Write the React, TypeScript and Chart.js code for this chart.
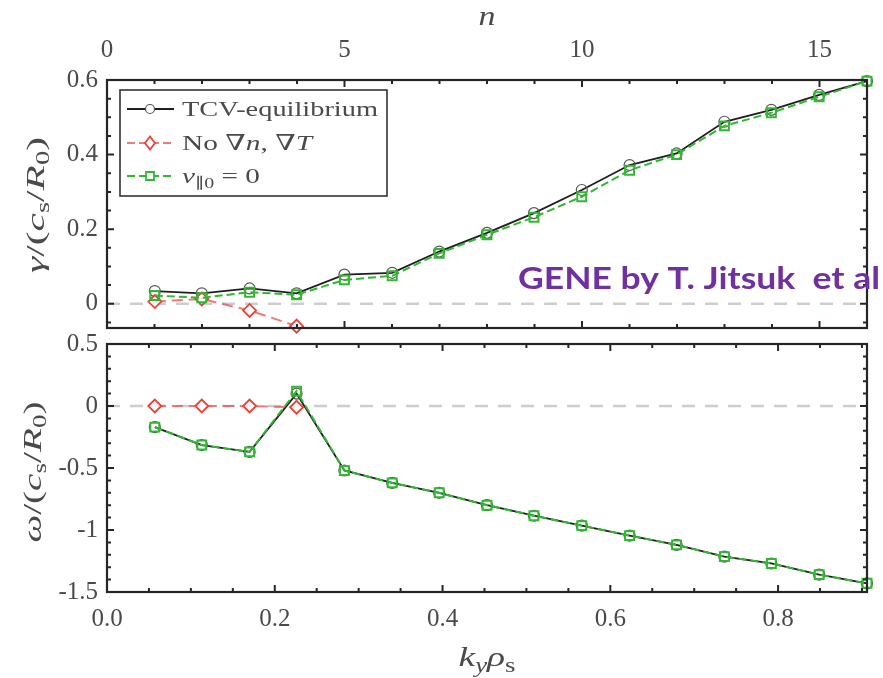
import React, { useEffect, useRef } from "react";
import { Chart, registerables } from "chart.js";
Chart.register(...registerables);

// ---------- data ----------
const nValues = [1, 2, 3, 4, 5, 6, 7, 8, 9, 10, 11, 12, 13, 14, 15, 16];
const kyValues = [0.057, 0.113, 0.17, 0.226, 0.283, 0.34, 0.396, 0.453, 0.509, 0.566, 0.623, 0.679, 0.736, 0.792, 0.849, 0.906];
const gammaTCV = [0.034, 0.028, 0.041, 0.028, 0.078, 0.083, 0.14, 0.19, 0.243, 0.305, 0.372, 0.403, 0.488, 0.52, 0.56, 0.597];
const gammaNoGrad = [0.006, 0.013, -0.018, -0.06];
const gammaV0 = [0.022, 0.016, 0.031, 0.024, 0.064, 0.075, 0.135, 0.185, 0.232, 0.287, 0.358, 0.4, 0.477, 0.512, 0.555, 0.597];
const omegaTCV = [-0.17, -0.315, -0.37, 0.1, -0.52, -0.62, -0.7, -0.8, -0.885, -0.965, -1.045, -1.12, -1.215, -1.27, -1.36, -1.43];
const omegaNoGrad = [0, 0, 0, -0.01];
const omegaV0 = [-0.17, -0.315, -0.37, 0.12, -0.52, -0.62, -0.7, -0.8, -0.885, -0.965, -1.045, -1.12, -1.215, -1.27, -1.36, -1.43];

const nTicks = [0, 5, 10, 15];
const kyTicks = [0, 0.2, 0.4, 0.6, 0.8];
const gammaTicks = [0, 0.2, 0.4, 0.6];
const omegaTicks = [0.5, 0, -0.5, -1, -1.5];

const legendLabels = ["TCV-equilibrium", "No ∇n, ∇T", "v∥0 = 0"];
const annotationText = "GENE by T. Jitsuk  et al";

// ---------- style ----------
const SERIF = '"Liberation Serif", "DejaVu Serif", serif';
const TXT = "#4a4a4a";
const BLACK = "#1e1e1e";
const RED = "#e5433b";
const RED_LINE = "rgba(229,80,75,0.75)";
const GREEN = "#33b633";
const KY_MAX = 0.906;

const TOP_H = 340;
const BOT_TOP = 318;
const BOT_H = 678 - BOT_TOP;

type Seg = { t: string; it?: boolean; sub?: boolean };

function segFont(s: Seg, size: number) {
  return `${s.it ? "italic " : ""}${s.sub ? Math.round(size * 0.7) : size}px ${SERIF}`;
}

function drawRich(
  ctx: CanvasRenderingContext2D,
  segs: Seg[],
  x: number,
  y: number,
  size: number,
  opts: { align: "left" | "center"; width?: number; rotate?: boolean; color?: string }
) {
  ctx.save();
  let natural = 0;
  const ws = segs.map((s) => {
    ctx.font = segFont(s, size);
    const w = ctx.measureText(s.t).width;
    natural += w;
    return w;
  });
  const sx = opts.width ? opts.width / natural : 1;
  ctx.translate(x, y);
  if (opts.rotate) ctx.rotate(-Math.PI / 2);
  ctx.scale(sx, 1);
  let cx = opts.align === "center" ? -natural / 2 : 0;
  ctx.fillStyle = opts.color || TXT;
  ctx.textBaseline = "alphabetic";
  ctx.textAlign = "left";
  const base = size * 0.33;
  segs.forEach((s, i) => {
    ctx.font = segFont(s, size);
    ctx.fillText(s.t, cx, base + (s.sub ? size * 0.22 : 0));
    cx += ws[i];
  });
  ctx.restore();
}

function pts(xs: number[], ys: number[]) {
  return ys.map((y, i) => ({ x: xs[i], y }));
}

function makeDatasets(black: number[], red: number[], green: number[]) {
  return [
    {
      label: legendLabels[0],
      data: pts(kyValues, black),
      borderColor: BLACK,
      borderWidth: 1.8,
      pointStyle: "circle",
      pointRadius: 5.5,
      pointBorderWidth: 1.2,
      pointBorderColor: "#555",
      pointBackgroundColor: "rgba(0,0,0,0)",
      order: 2,
      clip: false as any,
    },
    {
      label: legendLabels[1],
      data: pts(kyValues, red),
      borderColor: RED_LINE,
      borderWidth: 2,
      borderDash: [11, 6],
      pointStyle: "rectRot",
      pointRadius: 6.5,
      pointBorderWidth: 1.8,
      pointBorderColor: RED,
      pointBackgroundColor: "rgba(255,255,255,0.85)",
      order: 1,
      clip: false as any,
    },
    {
      label: legendLabels[2],
      data: pts(kyValues, green),
      borderColor: GREEN,
      borderWidth: 2,
      borderDash: [8, 4],
      pointStyle: "rect",
      pointRadius: 6.3,
      pointBorderWidth: 2,
      pointBorderColor: GREEN,
      pointBackgroundColor: "rgba(0,0,0,0)",
      order: 0,
      clip: false as any,
    },
  ];
}

function zeroLine(chart: any) {
  const { ctx, chartArea: a } = chart;
  const y = chart.scales.y.getPixelForValue(0);
  ctx.save();
  ctx.strokeStyle = "#cdcdcd";
  ctx.lineWidth = 2.5;
  ctx.setLineDash([13, 10]);
  ctx.beginPath();
  ctx.moveTo(a.left, y);
  ctx.lineTo(a.right, y);
  ctx.stroke();
  ctx.restore();
}

function frame(chart: any, xTickVals: number[], xMajor: (v: number) => boolean, xScaleId: string, yTickVals: number[], yMajor: (v: number) => boolean) {
  const { ctx, chartArea: a } = chart;
  ctx.save();
  ctx.strokeStyle = "#262626";
  ctx.lineWidth = 2;
  ctx.setLineDash([]);
  ctx.beginPath();
  const xs = chart.scales[xScaleId];
  xTickVals.forEach((v) => {
    const px = xs.getPixelForValue(v);
    const L = xMajor(v) ? 7 : 4;
    ctx.moveTo(px, a.top);
    ctx.lineTo(px, a.top + L);
    ctx.moveTo(px, a.bottom);
    ctx.lineTo(px, a.bottom - L);
  });
  const ys = chart.scales.y;
  yTickVals.forEach((v) => {
    const py = ys.getPixelForValue(v);
    const L = yMajor(v) ? 7 : 4;
    ctx.moveTo(a.left, py);
    ctx.lineTo(a.left + L, py);
    ctx.moveTo(a.right, py);
    ctx.lineTo(a.right - L, py);
  });
  ctx.stroke();
  ctx.lineWidth = 2.2;
  ctx.strokeRect(a.left, a.top, a.right - a.left, a.bottom - a.top);
  ctx.restore();
}

function drawMarker(ctx: CanvasRenderingContext2D, kind: string, x: number, y: number, color: string) {
  ctx.save();
  ctx.setLineDash([]);
  ctx.strokeStyle = color;
  ctx.fillStyle = "#fff";
  ctx.lineWidth = kind === "circle" ? 1.2 : 1.8;
  ctx.beginPath();
  if (kind === "circle") ctx.arc(x, y, 4.5, 0, Math.PI * 2);
  else if (kind === "diamond") {
    ctx.moveTo(x, y - 6.5);
    ctx.lineTo(x + 5, y);
    ctx.lineTo(x, y + 6.5);
    ctx.lineTo(x - 5, y);
    ctx.closePath();
  } else ctx.rect(x - 4, y - 4, 8, 8);
  ctx.fill();
  ctx.stroke();
  ctx.restore();
}

const topPlugin = {
  id: "topDeco",
  beforeDatasetsDraw(chart: any) {
    zeroLine(chart);
  },
  afterDatasetsDraw(chart: any) {
    const nAll = Array.from({ length: 17 }, (_, i) => i);
    const yAll = Array.from({ length: 14 }, (_, i) => Math.round((i - 1) * 5) / 100);
    frame(chart, nAll, (v) => v % 5 === 0, "xn", yAll, (v) => Math.abs(Math.round(v * 100) % 20) === 0);
  },
  afterDraw(chart: any) {
    const ctx: CanvasRenderingContext2D = chart.ctx;
    // legend
    ctx.save();
    ctx.fillStyle = "#fff";
    ctx.fillRect(120, 90, 267, 106);
    ctx.strokeStyle = "#333";
    ctx.lineWidth = 1.6;
    ctx.strokeRect(120, 90, 267, 106);
    const rows = [
      { y: 109, color: BLACK, dash: [] as number[], kind: "circle", segs: [{ t: "TCV-equilibrium" }] as Seg[], w: 196 },
      { y: 143, color: RED_LINE, dash: [8, 4], kind: "diamond", segs: [{ t: "No ∇" }, { t: "n", it: true }, { t: ", ∇" }, { t: "T", it: true }] as Seg[], w: 130 },
      { y: 176, color: GREEN, dash: [8, 4], kind: "square", segs: [{ t: "v", it: true }, { t: "∥0", sub: true }, { t: " = 0" }] as Seg[], w: 78 },
    ];
    rows.forEach((r) => {
      ctx.save();
      ctx.strokeStyle = r.color;
      ctx.lineWidth = 1.8;
      ctx.setLineDash(r.dash);
      ctx.beginPath();
      ctx.moveTo(127, r.y);
      ctx.lineTo(174, r.y);
      ctx.stroke();
      ctx.restore();
      drawMarker(ctx, r.kind, 150, r.y, r.kind === "circle" ? "#555" : r.kind === "diamond" ? RED : GREEN);
      drawRich(ctx, r.segs, 182, r.y, 22, { align: "left", width: r.w });
    });
    ctx.restore();
    // axis titles
    drawRich(ctx, [{ t: "n", it: true }], 487, 16, 27, { align: "center", width: 17 });
    drawRich(
      ctx,
      [{ t: "γ", it: true }, { t: "/(" }, { t: "c", it: true }, { t: "s", sub: true }, { t: "/" }, { t: "R", it: true }, { t: "0", sub: true }, { t: ")" }],
      35,
      205,
      26,
      { align: "center", width: 136, rotate: true }
    );
    // annotation
    ctx.save();
    ctx.font = 'bold 30px Lato, "Open Sans", sans-serif';
    const w = ctx.measureText(annotationText).width;
    ctx.translate(518, 289);
    ctx.scale(362 / w, 1);
    ctx.fillStyle = "#7030A0";
    ctx.textBaseline = "alphabetic";
    ctx.fillText(annotationText, 0, 0);
    ctx.restore();
  },
};

const bottomPlugin = {
  id: "botDeco",
  beforeDatasetsDraw(chart: any) {
    zeroLine(chart);
  },
  afterDatasetsDraw(chart: any) {
    const xAll = Array.from({ length: 19 }, (_, i) => i * 0.05);
    const yAll = Array.from({ length: 21 }, (_, i) => Math.round((-15 + i) * 10) / 100);
    frame(chart, xAll, (v) => Math.round(v * 100) % 20 === 0, "x", yAll, (v) => Math.round(v * 100) % 50 === 0);
  },
  afterDraw(chart: any) {
    const ctx: CanvasRenderingContext2D = chart.ctx;
    drawRich(
      ctx,
      [{ t: "ω", it: true }, { t: "/(" }, { t: "c", it: true }, { t: "s", sub: true }, { t: "/" }, { t: "R", it: true }, { t: "0", sub: true }, { t: ")" }],
      32,
      472 - BOT_TOP,
      26,
      { align: "center", width: 141, rotate: true }
    );
    drawRich(ctx, [{ t: "k", it: true }, { t: "y", it: true, sub: true }, { t: "ρ", it: true }, { t: "s", sub: true }], 487, 657 - BOT_TOP, 28, {
      align: "center",
      width: 57,
    });
  },
};

const tickFont = { family: SERIF, size: 25 };

function fixY(width: number) {
  return (s: any) => {
    s.width = width;
    s.paddingTop = 0;
    s.paddingBottom = 0;
  };
}

export default function App() {
  const topRef = useRef<HTMLCanvasElement>(null);
  const botRef = useRef<HTMLCanvasElement>(null);
  useEffect(() => {
    document.body.style.margin = "0";
    const c1 = new Chart(topRef.current!, {
      type: "line",
      data: { datasets: makeDatasets(gammaTCV, gammaNoGrad, gammaV0) as any },
      options: {
        animation: false,
        responsive: false,
        maintainAspectRatio: false,
        layout: { padding: { left: 0, right: 16, top: 0, bottom: 0 } },
        plugins: { legend: { display: false }, tooltip: { enabled: false } },
        scales: {
          x: {
            type: "linear",
            position: "bottom",
            min: 0,
            max: KY_MAX,
            ticks: { display: false },
            grid: { display: false, drawTicks: false },
            border: { display: false },
            afterFit: (s: any) => {
              s.height = TOP_H - 328;
              s.paddingLeft = 0;
              s.paddingRight = 0;
            },
          },
          xn: {
            type: "linear",
            axis: "x",
            position: "top",
            min: 0,
            max: 16,
            afterBuildTicks: (s: any) => {
              s.ticks = nTicks.map((v) => ({ value: v }));
            },
            ticks: { font: tickFont, color: TXT, padding: 15, maxRotation: 0, callback: (v: any) => String(v) },
            grid: { display: false, drawTicks: false },
            border: { display: false },
            afterFit: (s: any) => {
              s.height = 80;
              s.paddingLeft = 0;
              s.paddingRight = 0;
            },
          },
          y: {
            type: "linear",
            min: -0.065,
            max: 0.6,
            afterBuildTicks: (s: any) => {
              s.ticks = gammaTicks.map((v) => ({ value: v }));
            },
            ticks: { font: tickFont, color: TXT, padding: 9, callback: (v: any) => (v === 0 ? "0" : Number(v).toFixed(1)) },
            grid: { display: false, drawTicks: false },
            border: { display: false },
            afterFit: fixY(107),
          },
        } as any,
      },
      plugins: [topPlugin],
    });
    const c2 = new Chart(botRef.current!, {
      type: "line",
      data: { datasets: makeDatasets(omegaTCV, omegaNoGrad, omegaV0) as any },
      options: {
        animation: false,
        responsive: false,
        maintainAspectRatio: false,
        layout: { padding: { left: 0, right: 16, top: 344 - BOT_TOP, bottom: 0 } },
        plugins: { legend: { display: false }, tooltip: { enabled: false } },
        scales: {
          x: {
            type: "linear",
            position: "bottom",
            min: 0,
            max: KY_MAX,
            afterBuildTicks: (s: any) => {
              s.ticks = kyTicks.map((v) => ({ value: v }));
            },
            ticks: { font: tickFont, color: TXT, padding: 12, maxRotation: 0, callback: (v: any) => Number(v).toFixed(1) },
            grid: { display: false, drawTicks: false },
            border: { display: false },
            afterFit: (s: any) => {
              s.height = 678 - 592;
              s.paddingLeft = 0;
              s.paddingRight = 0;
            },
          },
          y: {
            type: "linear",
            min: -1.5,
            max: 0.5,
            afterBuildTicks: (s: any) => {
              s.ticks = omegaTicks.map((v) => ({ value: v }));
            },
            ticks: {
              font: tickFont,
              color: TXT,
              padding: 9,
              callback: (v: any) => (v === 0 ? "0" : Number.isInteger(v) ? String(v) : Number(v).toFixed(1)),
            },
            grid: { display: false, drawTicks: false },
            border: { display: false },
            afterFit: fixY(107),
          },
        } as any,
      },
      plugins: [bottomPlugin],
    });
    return () => {
      c1.destroy();
      c2.destroy();
    };
  }, []);
  return (
    <div style={{ position: "relative", width: 883, height: 678, background: "#fff", overflow: "hidden" }}>
      <canvas ref={botRef} width={883} height={BOT_H} style={{ position: "absolute", left: 0, top: BOT_TOP, width: 883, height: BOT_H }} />
      <canvas ref={topRef} width={883} height={TOP_H} style={{ position: "absolute", left: 0, top: 0, width: 883, height: TOP_H }} />
    </div>
  );
}
